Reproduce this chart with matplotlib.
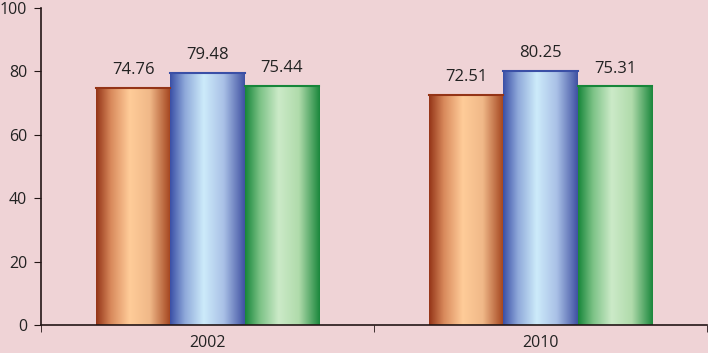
import numpy as np
import matplotlib.pyplot as plt
from matplotlib.colors import LinearSegmentedColormap

years = ['2002', '2010']
series_a = [74.76, 72.51]
series_b = [79.48, 80.25]
series_c = [75.44, 75.31]

bg = '#EFD3D6'
dark = '#231616'

# edge, light, edge colours for the horizontal gradients
grads = [
    ['#943417', '#D98A5C', '#FFCC99', '#F0B888', '#A2421C'],
    ['#3A4FA6', '#8FA9DA', '#CDEBFA', '#A9C0E6', '#3F51A2'],
    ['#17863A', '#7CC286', '#CCEAC8', '#B0DBAB', '#1A873C'],
]

fig = plt.figure(figsize=(7.08, 3.53), dpi=100, facecolor=bg)
ax = fig.add_axes([41 / 708, 28 / 353, 666 / 708, 317 / 353])
ax.set_facecolor(bg)

x = np.arange(len(years))
w = 0.2235
grad_img = np.linspace(0, 1, 256).reshape(1, -1)

for i, vals in enumerate([series_a, series_b, series_c]):
    cmap = LinearSegmentedColormap.from_list('g%d' % i, list(zip([0, 0.2, 0.45, 0.72, 1.0], grads[i])))
    pos = x + (i - 1) * w
    bars = ax.bar(pos, vals, width=w, color='none', edgecolor='none', zorder=2)
    for b, v in zip(bars, vals):
        x0 = b.get_x()
        ax.imshow(grad_img, cmap=cmap, aspect='auto', extent=[x0, x0 + w, 0, v],
                  zorder=2, interpolation='bicubic')
        ax.plot([x0, x0 + w], [v, v], color=grads[i][0], lw=1.5, zorder=3)
        ax.annotate('%.2f' % v, (x0 + w / 2, v), xytext=(0, 7), textcoords='offset points',
                    ha='center', va='bottom', fontsize=12, color='#222222',
                    family='Open Sans')

ax.set_xlim(-0.5, 1.5)
ax.set_ylim(0, 100)
ax.set_yticks(range(0, 101, 20))
ax.set_xticks(x)
ax.set_xticklabels(years)
ax.set_xticks([-0.5, 0.5, 1.5], minor=True)
ax.tick_params(axis='x', which='major', length=0, pad=7)
ax.tick_params(axis='x', which='minor', length=5, direction='out', color=dark)
ax.tick_params(axis='y', length=5, direction='out', color=dark, pad=5)
for lbl in ax.get_xticklabels() + ax.get_yticklabels():
    lbl.set_family('Open Sans')
    lbl.set_fontsize(11.5)
    lbl.set_color('#222222')

for s in ['top', 'right']:
    ax.spines[s].set_visible(False)
for s in ['left', 'bottom']:
    ax.spines[s].set_color(dark)
    ax.spines[s].set_linewidth(1.2)
    ax.spines[s].set_zorder(4)

plt.savefig('out.png', dpi=100, facecolor=bg)
